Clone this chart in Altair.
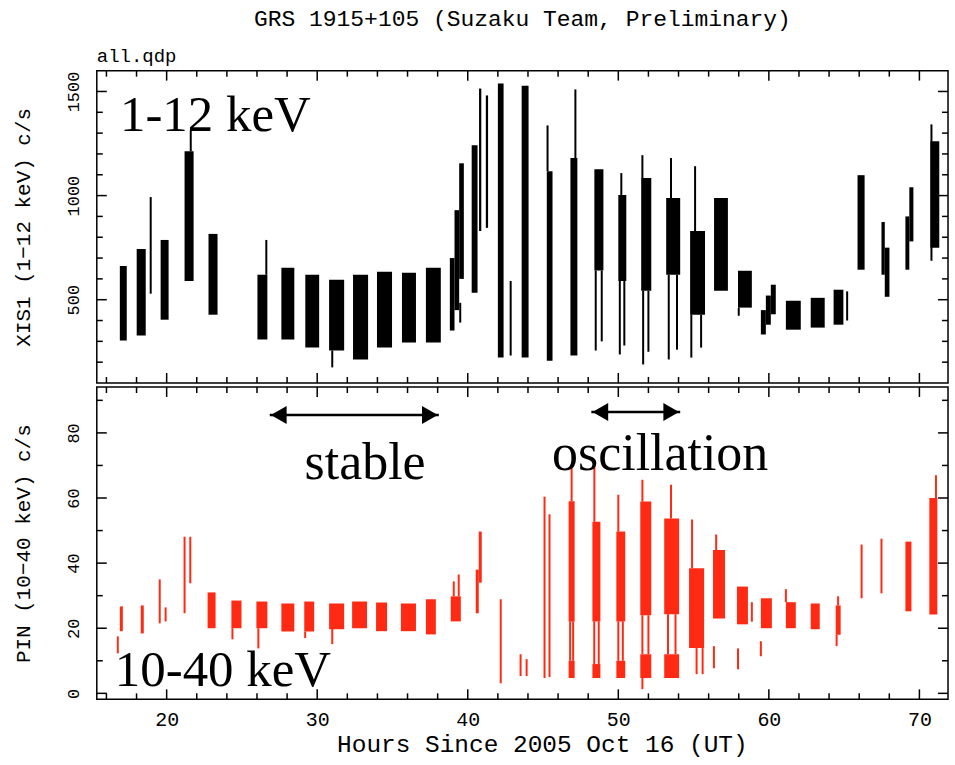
import altair as alt
import pandas as pd

# ---------------- XIS1 (1-12 keV) light curve ----------------
# dense blocks of data: start hour, end hour, lowest c/s, highest c/s
xis_t0 = [16.89, 18.01, 19.60, 21.19, 22.78, 26.03, 27.62, 29.21, 30.79, 32.38, 33.97,
          35.63, 37.22, 38.81, 39.12, 39.43, 40.26, 40.75, 41.20, 42.00, 43.58, 45.25,
          46.82, 48.41, 50.00, 51.52, 53.18, 54.77, 56.36, 57.95, 59.47, 59.80, 60.13,
          61.13, 62.78, 64.30, 65.89, 67.48, 67.70, 69.07, 69.33, 70.73]
xis_t1 = [17.35, 18.61, 20.13, 21.79, 23.38, 26.69, 28.48, 30.13, 31.79, 33.38, 34.97,
          36.56, 38.21, 39.12, 39.43, 39.74, 40.65, 40.90, 41.35, 42.38, 44.04, 45.63,
          47.28, 49.01, 50.53, 52.19, 54.11, 55.76, 57.28, 58.87, 59.80, 60.13, 60.46,
          62.12, 63.71, 64.95, 66.36, 67.70, 68.01, 69.33, 69.60, 71.32]
xis_lo = [304, 328, 404, 590, 428, 309, 309, 270, 256, 213, 270,
          294, 294, 352, 450, 600, 533, 830, 845, 222, 222, 207,
          232, 640, 590, 543, 620, 428, 543, 462, 333, 380, 430,
          356, 366, 380, 644, 620, 514, 644, 780, 749]
xis_hi = [662, 744, 787, 1213, 816, 620, 653, 620, 596, 620, 634,
          629, 653, 700, 930, 1155, 1242, 1514, 1481, 1538, 1528, 1117,
          1180, 1127, 1003, 1084, 988, 830, 988, 639, 450, 520, 572,
          495, 509, 548, 1098, 873, 750, 900, 1040, 1261]
# single thin strands: hour, lowest c/s, highest c/s
xis_line_t = [18.94, 21.60, 26.62, 31.00, 39.50, 42.85, 45.30, 47.15, 48.50, 48.90,
              50.20, 50.10, 50.40, 51.60, 51.65, 52.00, 53.50, 53.35, 53.90, 55.10,
              54.85, 55.50, 58.00, 65.20, 70.80]
xis_line_lo = [529, 1213, 620, 175, 390, 232, 1117, 1180, 256, 300,
               1003, 237, 280, 1084, 189, 250, 988, 213, 260, 830,
               222, 270, 423, 400, 687]
xis_line_hi = [993, 1313, 787, 256, 485, 590, 1337, 1510, 640, 640,
               1108, 590, 590, 1194, 543, 543, 1180, 620, 620, 1141,
               428, 428, 462, 540, 1342]

# ---------------- PIN (10-40 keV) light curve ----------------
pin_t0 = [16.69, 16.89, 18.28, 22.72, 24.30, 25.96, 27.62, 29.14, 30.79, 32.32, 33.91,
          35.56, 37.22, 38.87, 40.53, 40.73, 46.70, 46.70, 48.28, 48.28, 49.87, 49.87,
          51.46, 51.46, 53.05, 53.05, 54.70, 56.29, 57.88, 59.47, 61.13, 62.78, 64.44,
          69.07, 70.66]
pin_t1 = [16.82, 17.09, 18.48, 23.25, 24.97, 26.69, 28.48, 29.80, 31.79, 33.31, 34.64,
          36.56, 37.88, 39.54, 40.73, 40.93, 47.10, 47.10, 48.81, 48.81, 50.46, 50.46,
          52.19, 52.19, 54.04, 54.04, 55.70, 57.09, 58.61, 60.20, 61.79, 63.38, 64.77,
          69.47, 71.19]
pin_lo = [12.3, 19.1, 18.4, 20.0, 20.0, 20.0, 19.0, 19.0, 19.7, 20.0, 19.1,
          19.1, 18.1, 22.1, 24.6, 34.0, 22.0, 4.7, 22.1, 4.7, 22.1, 4.7,
          24.0, 4.7, 24.3, 4.7, 13.9, 23.0, 21.2, 20.0, 20.0, 19.7, 18.0,
          25.2, 24.2]
pin_hi = [17.5, 26.7, 27.0, 31.0, 28.5, 28.2, 27.6, 28.2, 27.6, 28.2, 27.9,
          27.6, 28.9, 29.8, 38.0, 49.7, 59.0, 10.0, 52.7, 9.0, 49.7, 10.0,
          58.9, 12.0, 53.7, 12.0, 38.4, 44.0, 32.8, 29.2, 28.0, 27.6, 27.0,
          46.6, 60.0]
pin_line_t = [19.54, 19.93, 21.19, 21.57, 24.37, 26.09, 29.20, 31.00, 39.07, 39.40,
              42.19, 43.51, 43.91, 45.10, 45.43, 46.90, 46.80, 47.00, 48.41, 48.40,
              48.70, 50.00, 50.00, 50.30, 51.60, 51.60, 52.00, 51.60, 53.50, 53.30,
              53.80, 54.90, 55.20, 55.60, 56.50, 56.35, 58.87, 57.95, 59.47, 61.13,
              64.50, 64.60, 66.16, 67.48, 71.10]
pin_line_lo = [21.5, 22.1, 24.6, 33.8, 16.6, 13.8, 17.0, 15.1, 29.8, 29.8,
               3.1, 5.3, 5.3, 4.7, 5.0, 59.0, 10.0, 10.0, 52.7, 9.0,
               9.0, 49.7, 10.0, 10.0, 58.9, 12.0, 12.0, 1.3, 53.7, 12.0,
               12.0, 38.4, 5.9, 5.9, 44.0, 7.7, 22.0, 7.4, 11.4, 28.0,
               14.5, 27.0, 29.2, 30.7, 60.0]
pin_line_hi = [35.0, 26.4, 48.1, 48.1, 20.0, 20.0, 19.0, 20.0, 34.4, 36.5,
               28.9, 12.0, 10.5, 60.4, 55.0, 70.5, 22.0, 22.0, 71.1, 22.1,
               22.1, 61.0, 22.1, 22.1, 65.6, 24.0, 24.0, 4.7, 64.1, 24.3,
               24.3, 53.4, 13.9, 13.9, 48.8, 14.5, 28.0, 13.8, 16.0, 32.0,
               18.0, 29.8, 45.7, 47.5, 67.0]

# ---------------- axes / ticks ----------------
x_major = [20, 30, 40, 50, 60, 70]
x_minor = [16, 18, 22, 24, 26, 28, 32, 34, 36, 38, 42, 44, 46, 48, 52, 54, 56, 58,
           62, 64, 66, 68]
xis_major = [500, 1000, 1500]
xis_minor = [200, 300, 400, 600, 700, 800, 900, 1100, 1200, 1300, 1400]
pin_major = [0, 20, 40, 60, 80]
pin_minor = [10, 30, 50, 70, 90]

# ---------------- annotations ----------------
band_text = ["1-12 keV", "10-40 keV"]
band_x = [16.9, 16.56]
band_y = [1309, 2.2]
arrow_label = ["stable", "oscillation"]
arrow_start = [26.85, 48.21]
arrow_end = [38.08, 54.11]
arrow_y = [85.5, 86.4]
label_x = [33.18, 52.78]
label_y = [65.9, 68.7]

TITLE = "GRS 1915+105 (Suzaku Team, Preliminary)"
FILE_LABEL = "all.qdp"
X_DOMAIN = [15.36, 71.9]
W, H = 853, 313
MONO = "Liberation Mono"
SERIF = "Liberation Serif"
RED = "#ff2a14"


def xsc():
    return alt.Scale(domain=X_DOMAIN, nice=False, zero=False)


def tick_layers(ydomain, ymaj, ymin, yaxis, xaxis):
    layers = []
    for vals, ln in ((x_major, 10), (x_minor, 6)):
        d = pd.DataFrame({"t": vals})
        for y0, y1 in ((0, ln), (H, H - ln)):
            layers.append(
                alt.Chart(d).mark_rule(color="black", strokeWidth=1.5).encode(
                    x=alt.X("t:Q", scale=xsc(), axis=xaxis),
                    y=alt.value(y0), y2=alt.value(y1)))
    for vals, ln in ((ymaj, 10), (ymin, 6)):
        d = pd.DataFrame({"v": vals})
        for x0, x1 in ((0, ln), (W, W - ln)):
            layers.append(
                alt.Chart(d).mark_rule(color="black", strokeWidth=1.5).encode(
                    y=alt.Y("v:Q", scale=alt.Scale(domain=ydomain, nice=False, zero=False), axis=yaxis),
                    x=alt.value(x0), x2=alt.value(x1)))
    return layers


def panel(t0, t1, lo, hi, lt, llo, lhi, color, ydomain, ymaj, ymin, ytitle, xaxis):
    yaxis = alt.Axis(values=ymaj, format="d", ticks=False, domain=False, grid=False,
                     labelAngle=270, labelAlign="center", labelBaseline="bottom",
                     labelFont=MONO, labelFontSize=17, labelPadding=14, labelColor="black",
                     title=ytitle, titleFont=MONO, titleFontSize=21, titleFontWeight="normal",
                     titleColor="black", titlePadding=31)
    ysc = alt.Scale(domain=ydomain, nice=False, zero=False)
    blocks = pd.DataFrame({"t0": t0, "t1": t1, "lo": lo, "hi": hi})
    strands = pd.DataFrame({"t": lt, "lo": llo, "hi": lhi})
    rect = alt.Chart(blocks).mark_rect(color=color).encode(
        x=alt.X("t0:Q", scale=xsc(), axis=xaxis), x2="t1:Q",
        y=alt.Y("lo:Q", scale=ysc, axis=yaxis), y2="hi:Q")
    rule = alt.Chart(strands).mark_rule(color=color, strokeWidth=2).encode(
        x=alt.X("t:Q", scale=xsc(), axis=xaxis),
        y=alt.Y("lo:Q", scale=ysc, axis=yaxis), y2="hi:Q")
    return [rect, rule] + tick_layers(ydomain, ymaj, ymin, yaxis, xaxis), ysc, yaxis


XIS_DOM = [100, 1600]
PIN_DOM = [-1.84, 94.1]

top_layers, top_ysc, top_yaxis = panel(
    xis_t0, xis_t1, xis_lo, xis_hi, xis_line_t, xis_line_lo, xis_line_hi, "black",
    XIS_DOM, xis_major, xis_minor, "XIS1 (1\u221212 keV) c/s", None)

bottom_xaxis = alt.Axis(values=x_major, ticks=False, domain=False, grid=False,
                        labelFont=MONO, labelFontSize=20, labelPadding=10, labelColor="black",
                        title="Hours Since 2005 Oct 16 (UT)", titleFont=MONO, titleFontSize=24.5,
                        titleFontWeight="normal", titleColor="black", titlePadding=3,
                        titleX=446)
bot_layers, bot_ysc, bot_yaxis = panel(
    pin_t0, pin_t1, pin_lo, pin_hi, pin_line_t, pin_line_lo, pin_line_hi, RED,
    PIN_DOM, pin_major, pin_minor, "PIN (10\u221240 keV) c/s", bottom_xaxis)

# band labels
top_band = alt.Chart(pd.DataFrame({"x": band_x[:1], "y": band_y[:1], "s": band_text[:1]})).mark_text(
    font=SERIF, fontSize=51, align="left", baseline="alphabetic", color="black").encode(
    x=alt.X("x:Q", scale=xsc(), axis=None), y=alt.Y("y:Q", scale=top_ysc, axis=top_yaxis), text="s:N")
file_label = alt.Chart(pd.DataFrame({"s": [FILE_LABEL]})).mark_text(
    font=MONO, fontSize=19, align="left", baseline="bottom", color="black").encode(
    x=alt.value(0), y=alt.value(-5), text="s:N")
bot_band = alt.Chart(pd.DataFrame({"x": band_x[1:], "y": band_y[1:], "s": band_text[1:]})).mark_text(
    font=SERIF, fontSize=51, align="left", baseline="alphabetic", color="black").encode(
    x=alt.X("x:Q", scale=xsc(), axis=bottom_xaxis), y=alt.Y("y:Q", scale=bot_ysc, axis=bot_yaxis), text="s:N")

arrows = pd.DataFrame({"a": arrow_start, "b": arrow_end, "y": arrow_y,
                       "lx": label_x, "ly": label_y, "s": arrow_label})
shaft = alt.Chart(arrows).mark_rule(color="black", strokeWidth=2.5).encode(
    x=alt.X("a:Q", scale=xsc(), axis=bottom_xaxis), x2="b:Q",
    y=alt.Y("y:Q", scale=bot_ysc, axis=bot_yaxis))
head_l = alt.Chart(arrows).mark_point(shape="triangle-left", filled=True, size=330, opacity=1,
                                      color="black", xOffset=9).encode(
    x=alt.X("a:Q", scale=xsc(), axis=bottom_xaxis), y=alt.Y("y:Q", scale=bot_ysc, axis=bot_yaxis))
head_r = alt.Chart(arrows).mark_point(shape="triangle-right", filled=True, size=330, opacity=1,
                                      color="black", xOffset=-9).encode(
    x=alt.X("b:Q", scale=xsc(), axis=bottom_xaxis), y=alt.Y("y:Q", scale=bot_ysc, axis=bot_yaxis))
arrow_text = alt.Chart(arrows).mark_text(font=SERIF, fontSize=52, align="center",
                                         baseline="alphabetic", color="black").encode(
    x=alt.X("lx:Q", scale=xsc(), axis=bottom_xaxis), y=alt.Y("ly:Q", scale=bot_ysc, axis=bot_yaxis),
    text="s:N")

top = alt.layer(*top_layers, top_band, file_label).properties(
    width=W, height=H,
    title=alt.TitleParams(TITLE, anchor="middle", frame="group", font=MONO, fontSize=23,
                          fontWeight="normal", color="black", offset=16))
bottom = alt.layer(*bot_layers, bot_band, shaft, head_l, head_r, arrow_text).properties(width=W, height=H)

chart = alt.vconcat(top, bottom, spacing=0).properties(
    padding={"left": 12, "top": 6, "right": 5, "bottom": 5},
    background="white",
).configure_view(stroke="black", strokeWidth=1.5)

chart.save("out.html", embed_options={"renderer": "svg", "actions": False})
